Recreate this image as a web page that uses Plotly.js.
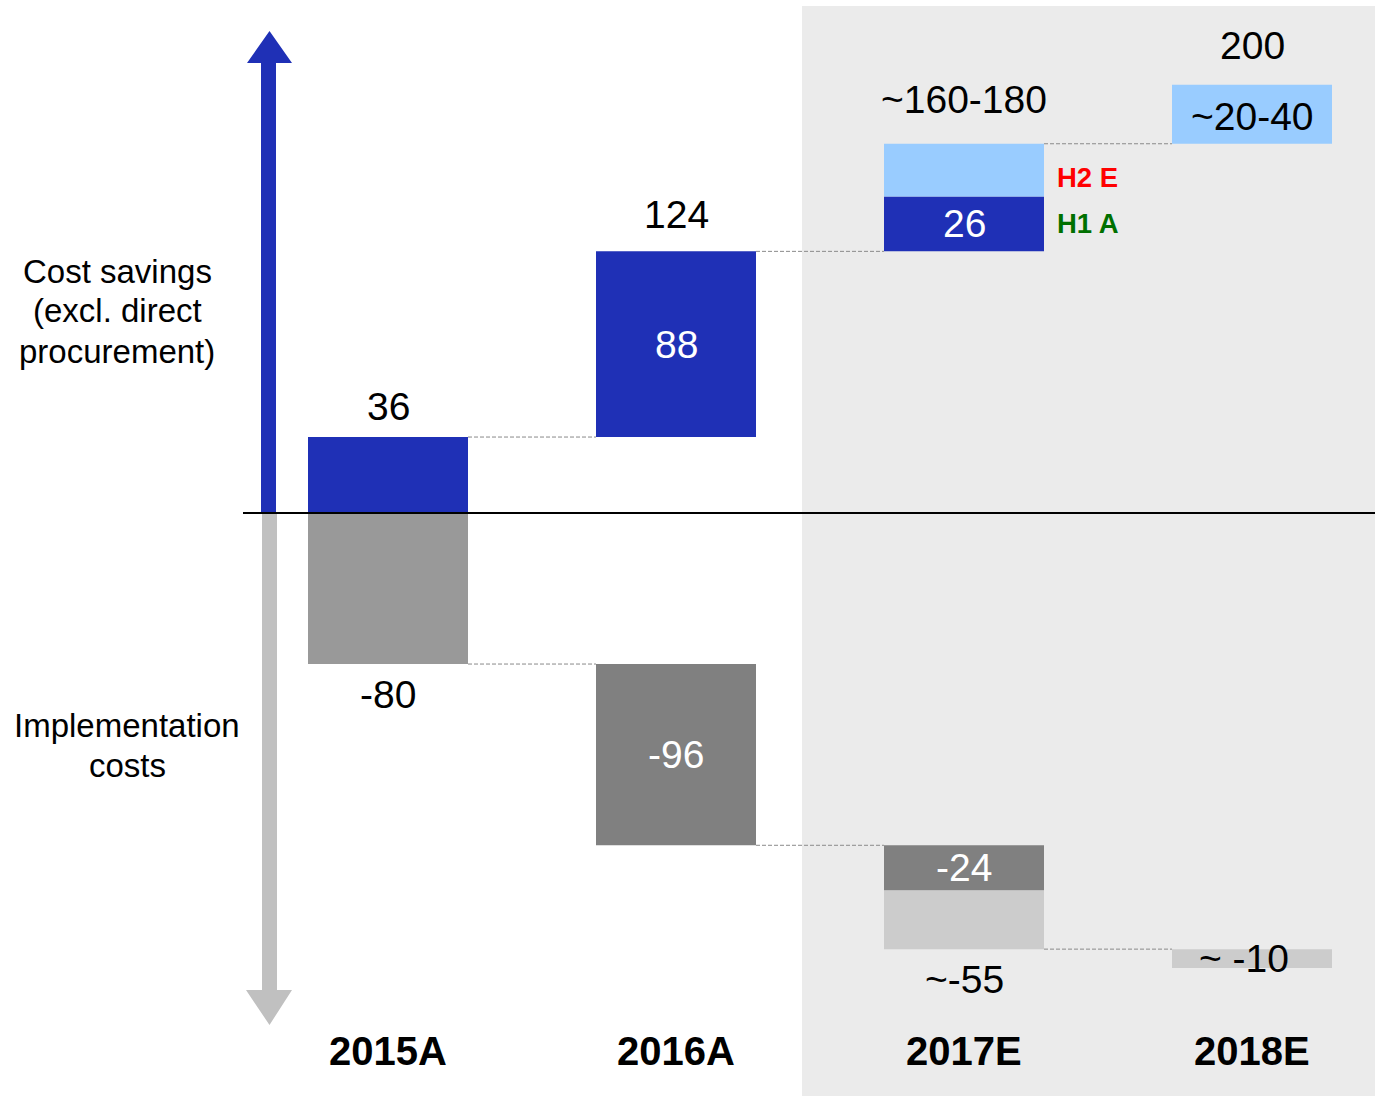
<!DOCTYPE html>
<html><head><meta charset="utf-8">
<script src="https://cdn.plot.ly/plotly-3.0.1.min.js"></script>
<style>html,body{margin:0;padding:0;background:#fff}#chart{width:1375px;height:1096px}</style>
</head><body><div id="chart"></div>
<script>
// ---- data ----
const categories = ['2015A', '2016A', '2017E', '2018E'];
const savingsActual = [36, 88, 26, null];
const savingsEstimate = [null, null, 25, 28];
const costsActual = [-80, -96, -24, null];
const costsEstimate = [null, null, -31, -10];
const savingsTopLabels = ['36', '124', '~160-180', '200'];
const savingsActualLabels = [null, '88', '26', null];
const savingsEstimateLabels = [null, null, null, '~20-40'];
const costsActualLabels = [null, '-96', '-24', null];
const costsEstimateLabels = [null, null, null, '~ -10'];
const costsBottomLabels = ['-80', null, '~-55', null];
const halfYearActual = 'H1 A';
const halfYearEstimate = 'H2 E';
const halfYearCategory = '2017E';
const sideLabelSavings = ['Cost savings', '(excl. direct', 'procurement)'];
const sideLabelCosts = ['Implementation', 'costs'];

// ---- layout helpers ----
const W = 1375, H = 1096;
const FONT = 'Liberation Sans, Arial, sans-serif';
const zeroPx = 513;
const zeroPaper = 1 - zeroPx / H;
const posScale = 2.11, negScale = 1.888;
const barW = 160 / 288;
const xLeft = -388 / 288, xRight = (W - 388) / 288;
const px = x => x / W;
const py = y => 1 - y / H;
const topLabelShift = [31, 37, 44, 39];   // label placement above bars (px)
const NUM_SIZE = 39, CAT_SIZE = 40, SIDE_SIZE = 33, HALF_SIZE = 27.5, SIDE_LINE = 40;

function stack(act, est) {
  let run = 0; const aBase = [], eBase = [], ends = [];
  for (let i = 0; i < categories.length; i++) {
    aBase.push(run); run += (act[i] || 0);
    eBase.push(run); run += (est[i] || 0);
    ends.push(run);
  }
  return {aBase, eBase, ends};
}
const sv = stack(savingsActual, savingsEstimate);
const cs = stack(costsActual, costsEstimate);

const DARK_BLUE = '#1f30b6', LIGHT_BLUE = '#99ccff';
const costActualColors = categories.map((c, i) => i === 0 ? '#999999' : '#808080');

const common = {type: 'bar', x: categories, width: barW, hoverinfo: 'skip', xaxis: 'x'};
const traces = [
  Object.assign({}, common, {y: savingsActual, base: sv.aBase, marker: {color: DARK_BLUE}, yaxis: 'y'}),
  Object.assign({}, common, {y: savingsEstimate, base: sv.eBase, marker: {color: LIGHT_BLUE}, yaxis: 'y'}),
  Object.assign({}, common, {y: costsActual, base: cs.aBase, marker: {color: costActualColors}, yaxis: 'y2'}),
  Object.assign({}, common, {y: costsEstimate, base: cs.eBase, marker: {color: '#cccccc'}, yaxis: 'y2'})
];

// ---- shapes ----
const shapes = [];
shapes.push({type: 'rect', layer: 'below', xref: 'paper', yref: 'paper',
  x0: px(802), x1: 1, y0: 0, y1: py(6), fillcolor: '#ebebeb', line: {width: 0}});
for (let i = 0; i < categories.length - 1; i++) {
  shapes.push({type: 'line', xref: 'x', yref: 'y', x0: i + barW / 2, x1: i + 1 - barW / 2,
    y0: sv.ends[i], y1: sv.ends[i], line: {color: '#8a8a8a', width: 1, dash: '4px,2px'}});
  shapes.push({type: 'line', xref: 'x', yref: 'y2', x0: i + barW / 2, x1: i + 1 - barW / 2,
    y0: cs.ends[i], y1: cs.ends[i], line: {color: '#8a8a8a', width: 1, dash: '4px,2px'}});
}
const upArrow = `M ${px(261)} ${py(513)} L ${px(261)} ${py(63)} L ${px(247)} ${py(63)} L ${px(269.5)} ${py(31)} L ${px(292)} ${py(63)} L ${px(276)} ${py(63)} L ${px(276)} ${py(513)} Z`;
const downArrow = `M ${px(262)} ${py(513)} L ${px(262)} ${py(990)} L ${px(246)} ${py(990)} L ${px(269.5)} ${py(1025)} L ${px(292)} ${py(990)} L ${px(277)} ${py(990)} L ${px(277)} ${py(513)} Z`;
shapes.push({type: 'path', xref: 'paper', yref: 'paper', path: upArrow, fillcolor: DARK_BLUE, line: {width: 0}});
shapes.push({type: 'path', xref: 'paper', yref: 'paper', path: downArrow, fillcolor: '#c0c0c0', line: {width: 0}});
shapes.push({type: 'line', xref: 'paper', yref: 'paper', x0: px(243), x1: 1, y0: zeroPaper, y1: zeroPaper,
  line: {color: '#000000', width: 2}});

// ---- annotations ----
const ann = [];
const txt = (size, color, bold) => ({family: FONT, size: size, color: color, weight: bold ? 'bold' : 'normal'});
categories.forEach((c, i) => {
  if (savingsTopLabels[i]) ann.push({xref: 'x', yref: 'y', x: i, y: sv.ends[i], yshift: topLabelShift[i], yanchor: 'middle',
    text: savingsTopLabels[i], showarrow: false, font: txt(NUM_SIZE, '#000')});
  if (savingsActualLabels[i]) ann.push({xref: 'x', yref: 'y', x: i, y: sv.aBase[i] + savingsActual[i] / 2, yanchor: 'middle',
    text: savingsActualLabels[i], showarrow: false, font: txt(NUM_SIZE, '#fff')});
  if (savingsEstimateLabels[i]) ann.push({xref: 'x', yref: 'y', x: i, y: sv.eBase[i] + savingsEstimate[i] / 2, yanchor: 'middle', yshift: -2,
    text: savingsEstimateLabels[i], showarrow: false, font: txt(NUM_SIZE, '#000')});
  if (costsActualLabels[i]) ann.push({xref: 'x', yref: 'y2', x: i, y: cs.aBase[i] + costsActual[i] / 2, yanchor: 'middle',
    text: costsActualLabels[i], showarrow: false, font: txt(NUM_SIZE, '#fff')});
  if (costsEstimateLabels[i]) ann.push({xref: 'x', yref: 'y2', x: i, y: cs.eBase[i] + costsEstimate[i] / 2, yanchor: 'middle', xshift: -8,
    text: costsEstimateLabels[i], showarrow: false, font: txt(NUM_SIZE, '#000')});
  if (costsBottomLabels[i]) ann.push({xref: 'x', yref: 'y2', x: i, y: cs.ends[i], yshift: -30, yanchor: 'middle',
    text: costsBottomLabels[i], showarrow: false, font: txt(NUM_SIZE, '#000')});
  ann.push({xref: 'x', yref: 'paper', x: i, y: py(1051), yanchor: 'middle', text: c, showarrow: false,
    font: txt(CAT_SIZE, '#000', true)});
});
const hi = categories.indexOf(halfYearCategory);
ann.push({xref: 'x', yref: 'y', x: hi + barW / 2, xshift: 11, xanchor: 'left', yanchor: 'middle',
  y: sv.aBase[hi] + savingsActual[hi] / 2, text: halfYearActual, showarrow: false, font: txt(HALF_SIZE, '#007000', true)});
ann.push({xref: 'x', yref: 'y', x: hi + barW / 2, xshift: 11, xanchor: 'left', yanchor: 'middle', yshift: -7,
  y: sv.eBase[hi] + savingsEstimate[hi] / 2, text: halfYearEstimate, showarrow: false, font: txt(HALF_SIZE, '#ff0000', true)});
function sideBlock(lines, cx, cy) {
  lines.forEach((ln, k) => {
    const yy = cy + (k - (lines.length - 1) / 2) * SIDE_LINE;
    ann.push({xref: 'paper', yref: 'paper', x: px(cx), y: py(yy), xanchor: 'center', yanchor: 'middle',
      text: ln, showarrow: false, font: txt(SIDE_SIZE, '#000')});
  });
}
sideBlock(sideLabelSavings, 117, 311);
sideBlock(sideLabelCosts, 127, 745);

const hidden = {showgrid: false, zeroline: false, showticklabels: false, showline: false, ticks: '', fixedrange: true};
const layout = {
  width: W, height: H, margin: {l: 0, r: 0, t: 0, b: 0, pad: 0},
  paper_bgcolor: '#ffffff', plot_bgcolor: 'rgba(0,0,0,0)', showlegend: false, barmode: 'overlay',
  xaxis: Object.assign({type: 'category', range: [xLeft, xRight]}, hidden),
  yaxis: Object.assign({domain: [zeroPaper, 1], range: [0, zeroPx / posScale]}, hidden),
  yaxis2: Object.assign({domain: [0, zeroPaper], range: [-(H - zeroPx) / negScale, 0], anchor: 'x'}, hidden),
  shapes: shapes, annotations: ann
};
Plotly.newPlot('chart', traces, layout, {staticPlot: true, displayModeBar: false});
</script></body></html>
